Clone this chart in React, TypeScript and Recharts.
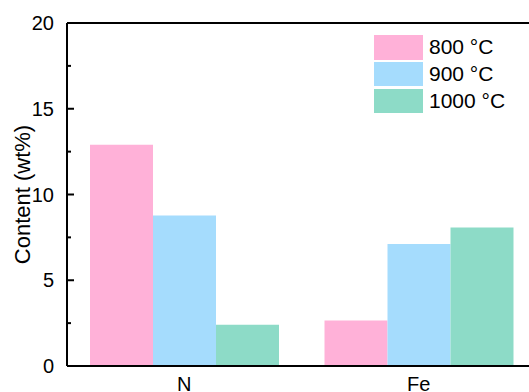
import { Bar, BarChart, ReferenceLine, XAxis, YAxis } from "recharts";

// Element content (wt%) of the catalysts pyrolysed at three temperatures.
const elements = ["N", "Fe"];
const content800 = [12.9, 2.65];
const content900 = [8.78, 7.12];
const content1000 = [2.4, 8.08];

const seriesNames = ["800 °C", "900 °C", "1000 °C"];
const seriesColors = ["#FFB1D8", "#A5DCFD", "#8DDBC7"];

const majorTicks = [0, 5, 10, 15, 20];
const yTicks = [0, 2.5, 5, 7.5, 10, 12.5, 15, 17.5, 20];

const FONT = "Liberation Sans, Arial, sans-serif";

const data = elements.map((name, i) => ({
  name,
  t800: content800[i],
  t900: content900[i],
  t1000: content1000[i],
}));

function YTick(props: { x?: number; y?: number; payload?: { value: number } }) {
  const { x = 0, y = 0, payload } = props;
  const value = payload ? payload.value : 0;
  const major = majorTicks.includes(value);
  return (
    <g>
      <line x1={x} x2={x + (major ? 7 : 4)} y1={y} y2={y} stroke="#000" strokeWidth={2} />
      {major && (
        <text x={x - 13} y={y} dy={7} textAnchor="end" fontSize={20} fontFamily={FONT} fill="#000">
          {value}
        </text>
      )}
    </g>
  );
}

// category labels sit right at the bottom edge, as in the original figure
function XTick(props: { x?: number; y?: number; payload?: { value: string } }) {
  const { x = 0, y = 0, payload } = props;
  return (
    <text x={x} y={y + 25} textAnchor="middle" fontSize={20} fontFamily={FONT} fill="#000">
      {payload ? payload.value : ""}
    </text>
  );
}

// legend drawn as an overlay so it doesn't steal room from the plot
function LegendBox() {
  return (
    <div
      style={{
        position: "absolute",
        left: 374,
        top: 34,
        fontFamily: FONT,
        fontSize: 21,
        color: "#000",
      }}
    >
      {seriesNames.map((name, i) => (
        <div key={name} style={{ display: "flex", alignItems: "center", height: 26.8 }}>
          <div style={{ width: 49, height: 24.5, background: seriesColors[i], marginRight: 6 }} />
          <span>{name}</span>
        </div>
      ))}
    </div>
  );
}

export default function App() {
  return (
    <div
      style={{
        position: "fixed",
        left: 0,
        top: 0,
        width: 529,
        height: 392,
        overflow: "hidden",
        background: "#fff",
      }}
    >
      <BarChart
        width={540}
        height={400}
        data={data}
        margin={{ top: 23, right: 4, bottom: 0, left: 0 }}
        barCategoryGap={23}
        barGap={0}
      >
        <XAxis
          dataKey="name"
          height={34}
          tickSize={0}
          tickMargin={0}
          tickLine={false}
          axisLine={{ stroke: "#000", strokeWidth: 2 }}
          tick={<XTick />}
        />
        <YAxis
          width={67}
          domain={[0, 20]}
          ticks={yTicks}
          interval={0}
          tickSize={0}
          tickMargin={0}
          tickLine={false}
          axisLine={{ stroke: "#000", strokeWidth: 2 }}
          tick={<YTick />}
          label={{
            content: (p: { viewBox?: { x: number; y: number; width: number; height: number } }) => {
              const vb = p.viewBox || { x: 0, y: 0, width: 0, height: 0 };
              const cy = vb.y + vb.height / 2;
              return (
                <text
                  x={22}
                  y={cy}
                  transform={`rotate(-90, 22, ${cy})`}
                  textAnchor="middle"
                  dominantBaseline="central"
                  fontSize={22}
                  fontFamily={FONT}
                  fill="#000"
                >
                  Content (wt%)
                </text>
              );
            },
          }}
        />
        <ReferenceLine y={20} stroke="#000" strokeWidth={2} />
        <Bar dataKey="t800" name={seriesNames[0]} fill={seriesColors[0]} isAnimationActive={false} />
        <Bar dataKey="t900" name={seriesNames[1]} fill={seriesColors[1]} isAnimationActive={false} />
        <Bar dataKey="t1000" name={seriesNames[2]} fill={seriesColors[2]} isAnimationActive={false} />
      </BarChart>
      <LegendBox />
    </div>
  );
}
